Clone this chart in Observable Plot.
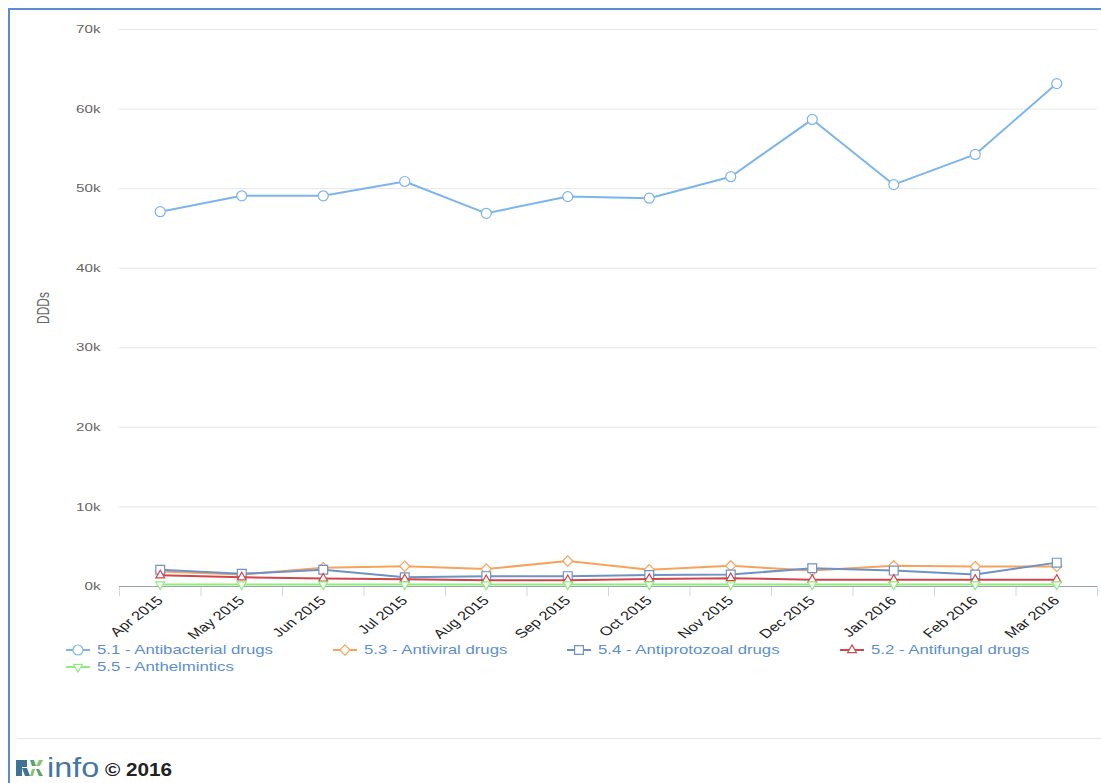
<!DOCTYPE html>
<html><head><meta charset="utf-8">
<script src="https://cdn.jsdelivr.net/npm/d3@7"></script>
<script src="https://cdn.jsdelivr.net/npm/@observablehq/plot@0.6"></script>
<style>
body{margin:0;background:#fff;font-family:"Liberation Sans",Arial,sans-serif;}
#page{position:relative;width:1101px;height:783px;overflow:hidden;}
#frameTop{position:absolute;left:8px;top:8px;right:0;height:2px;background:#5b8bd0;}
#frameLeft{position:absolute;left:8px;top:8px;width:2px;bottom:0;background:#5b8bd0;}
#chart{position:absolute;left:0;top:0;}
#ylab{position:absolute;left:44px;top:308px;transform:translate(-50%,-50%) scale(1.3,1) rotate(-90deg);font-size:12px;color:#666;white-space:nowrap;line-height:1;}
#legend{position:absolute;left:66px;top:641px;width:1010px;display:flex;flex-wrap:wrap;column-gap:60px;row-gap:0;}
.item{display:flex;align-items:center;height:17px;font-size:12.7px;color:#5b8fd0;white-space:nowrap;}
.item svg{margin-right:7px;}
.item span{display:inline-block;transform:scaleX(1.32);transform-origin:0 50%;}
#sep{position:absolute;left:17px;right:0;top:738px;height:1px;background:#e6e6e6;}
#logo{position:absolute;left:16px;top:758px;}
#info{position:absolute;left:47px;top:755px;font-size:27px;line-height:27px;color:#4577a0;transform:scaleX(1.2);transform-origin:0 0;}
#copy{position:absolute;left:105px;top:761px;font-size:18px;line-height:18px;font-weight:bold;color:#222;transform:scaleX(1.15);transform-origin:0 0;white-space:nowrap;}
</style>
</head><body>
<div id="page">
  <div id="frameTop"></div>
  <div id="frameLeft"></div>
  <div id="chart"></div>
  <div id="ylab">DDDs</div>
  <div id="legend"></div>
  <div id="sep"></div>
  <svg id="logo" width="27" height="20" viewBox="0 0 27 20">
    <rect x="0" y="2" width="6" height="16" fill="#3f7396"/>
    <rect x="6" y="2" width="5" height="7" fill="#3f7396"/>
    <polygon points="6,10 11,10 14,18 9,18" fill="#3f7396"/>
    <polygon points="14,2 18,2 20,8 16,8" fill="#5aa36a"/>
    <polygon points="23,2 27,2 24,8 20,8" fill="#8cc46f"/>
    <polygon points="20,11 23,11 27,18 23,18" fill="#5aa36a"/>
    <polygon points="16,11 19,11 17,18 14,18" fill="#8cc46f"/>
  </svg>
  <span id="info">info</span>
  <span id="copy">© 2016</span>
</div>
<script>
const months = ["Apr 2015","May 2015","Jun 2015","Jul 2015","Aug 2015","Sep 2015","Oct 2015","Nov 2015","Dec 2015","Jan 2016","Feb 2016","Mar 2016"];
const antibacterial = [47100, 49100, 49100, 50900, 46900, 49000, 48800, 51500, 58700, 50500, 54300, 63200];
const antiviral     = [1900, 1500, 2350, 2550, 2200, 3200, 2100, 2600, 2000, 2600, 2500, 2500];
const antiprotozoal = [2100, 1600, 2100, 1150, 1300, 1300, 1450, 1500, 2300, 2000, 1500, 3000];
const antifungal    = [1400, 1150, 1000, 900, 800, 800, 950, 1050, 850, 850, 850, 850];
const anthelmintics = [250, 250, 250, 250, 250, 250, 250, 250, 250, 250, 250, 250];
const yTicks = [0, 10000, 20000, 30000, 40000, 50000, 60000, 70000];

const series = [
  {name:"5.1 - Antibacterial drugs", values:antibacterial, color:"#7cb5ec", symbol:"circle", r:5, rotate:0},
  {name:"5.3 - Antiviral drugs", values:antiviral, color:"#f7a35c", symbol:"diamond2", r:4.6, rotate:0},
  {name:"5.4 - Antiprotozoal drugs", values:antiprotozoal, color:"#6f92c4", symbol:"square2", r:5.6, rotate:0},
  {name:"5.2 - Antifungal drugs", values:antifungal, color:"#d2464c", symbol:"triangle2", r:4.2, rotate:0},
  {name:"5.5 - Anthelmintics", values:anthelmintics, color:"#90ed7d", symbol:"triangle2", r:4.2, rotate:180}
];

const rows = series.map(s => s.values.map((v, i) => ({series:s.name, i, value:v})));
const edges = d3.range(months.length + 1).map(i => i - 0.5);

const marks = [
  Plot.gridY(yTicks, {stroke:"#e6e6e6", strokeOpacity:1}),
  Plot.axisY(yTicks, {tickSize:0, tickPadding:19, tickFormat:d => d/1000 + "k", fill:"#666", fontSize:11.5, label:null}),
  Plot.axisX(edges, {tickSize:10, tickFormat:() => "", stroke:"#ccd6eb", label:null}),
  Plot.ruleY([0], {stroke:"#9aa3b0"}),
  Plot.axisX(d3.range(months.length), {tickSize:0, tickPadding:12, tickRotate:-45, tickFormat:i => months[i], fontSize:12.5, fill:"#222", label:null})
];
series.forEach((s, k) => {
  marks.push(Plot.line(rows[k], {x:"i", y:"value", stroke:s.color, strokeWidth:2}));
  marks.push(Plot.dot(rows[k], {x:"i", y:"value", symbol:s.symbol, r:s.r, rotate:s.rotate, fill:"white", stroke:s.color, strokeWidth:1.2}));
});

const chart = Plot.plot({
  width:1101, height:645,
  marginLeft:119, marginRight:4, marginTop:29, marginBottom:59,
  style:{background:"transparent", fontFamily:"'Liberation Sans', Arial, sans-serif"},
  x:{type:"linear", domain:[-0.5, months.length - 0.5]},
  y:{domain:[0, 70000]},
  marks
});
document.getElementById("chart").appendChild(chart);

// horizontally stretch axis tick labels, as in the reference picture
d3.select(chart).selectAll('g[aria-label="x-axis tick label"] text, g[aria-label="y-axis tick label"] text').each(function() {
  const el = d3.select(this);
  let t = el.attr("transform") || "";
  const x = +el.attr("x") || 0, y = +el.attr("y") || 0;
  if (x || y) { el.attr("x", null).attr("y", null); t = `translate(${x},${y}) ` + t; }
  if (t.includes("rotate")) t = t.replace("rotate", "scale(1.32,1) rotate");
  else t = t + " scale(1.32,1)";
  el.attr("transform", t);
});

// legend
const legend = d3.select("#legend");
const symMap = {circle:d3.symbolCircle, diamond2:d3.symbolDiamond2, square2:d3.symbolSquare2, triangle2:d3.symbolTriangle2};
series.forEach(s => {
  const item = legend.append("div").attr("class","item");
  const svg = item.append("svg").attr("width",24).attr("height",14);
  svg.append("line").attr("x1",0).attr("x2",24).attr("y1",7).attr("y2",7).attr("stroke",s.color).attr("stroke-width",2);
  svg.append("path").attr("d", d3.symbol(symMap[s.symbol], Math.PI*s.r*s.r)())
    .attr("transform",`translate(12,7) rotate(${s.rotate})`)
    .attr("fill","white").attr("stroke",s.color).attr("stroke-width",1.2);
  item.append("span").text(s.name);
});
legend.selectAll(".item span").each(function() {
  const w = this.getBoundingClientRect().width / 1.32;
  this.style.marginRight = (w * 0.32) + "px";
});
</script>
</body></html>
